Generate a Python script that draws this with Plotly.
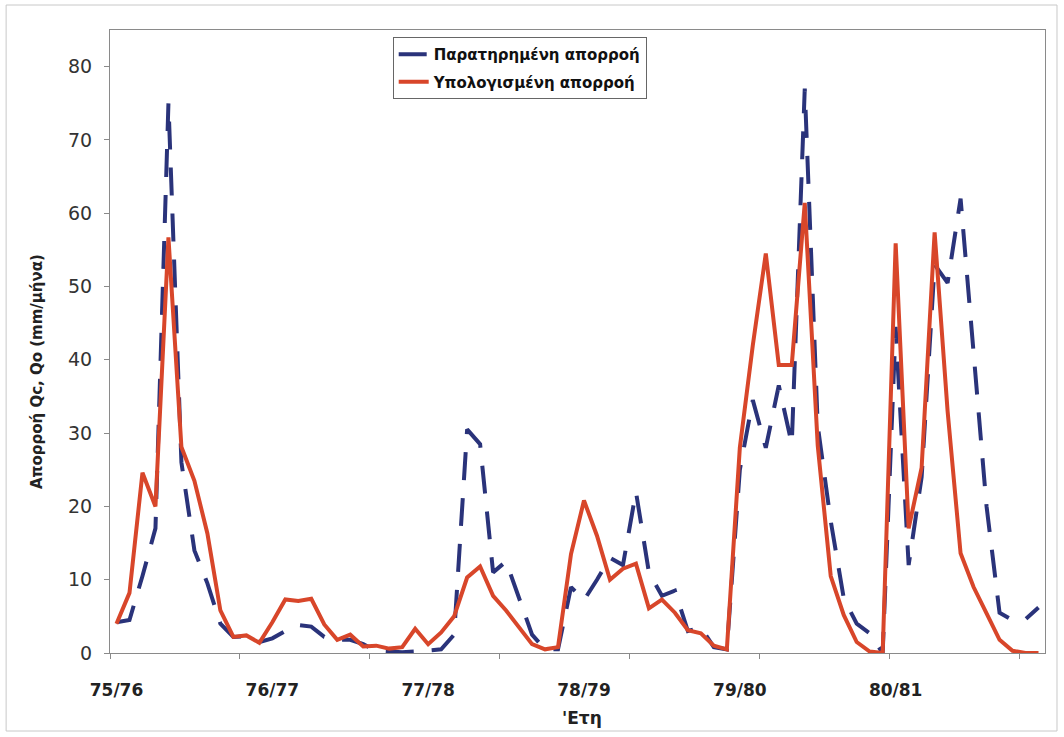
import plotly.graph_objects as go

# hydrological years (labels every 12 months)
years = ["75/76", "76/77", "77/78", "78/79", "79/80", "80/81"]
months = list(range(72))

observed = [4.2, 4.5, 10.5, 17.0, 75.0, 26.0, 14.0, 9.5, 4.0, 2.2, 2.3, 1.5,
            2.0, 3.0, 3.8, 3.6, 2.2, 1.8, 1.8, 1.2, 0.3, 0.2, 0.1, 0.2,
            0.4, 0.5, 2.5, 30.5, 28.5, 11.0, 12.5, 7.5, 2.5, 0.5, 0.5, 9.0,
            7.2, 10.0, 13.0, 12.0, 22.0, 11.0, 7.8, 8.5, 3.0, 3.5, 0.8, 0.5,
            25.0, 34.5, 28.0, 36.5, 28.5, 77.0, 31.0, 18.0, 7.5, 4.0, 2.7, 0.0,
            44.5, 12.0, 24.0, 53.0, 50.5, 62.0, 40.5, 20.0, 5.5, 4.5, 4.6, 6.2]

computed = [4.0, 8.2, 24.6, 20.0, 56.7, 28.1, 23.5, 16.3, 5.8, 2.2, 2.4, 1.4,
            4.2, 7.3, 7.1, 7.4, 3.9, 1.8, 2.5, 0.9, 1.0, 0.6, 0.8, 3.3,
            1.2, 2.8, 5.0, 10.3, 11.8, 7.8, 5.8, 3.5, 1.2, 0.5, 0.8, 13.5,
            20.8, 16.0, 10.0, 11.5, 12.2, 6.1, 7.3, 5.5, 3.1, 2.7, 1.0, 0.5,
            28.0, 42.0, 54.5, 39.3, 39.3, 61.4, 28.3, 10.5, 5.2, 1.5, 0.2, 0.0,
            55.9, 17.0, 25.3, 57.4, 33.0, 13.6, 9.0, 5.4, 1.8, 0.3, 0.0, 0.0]

yticks = [0, 10, 20, 30, 40, 50, 60, 70, 80]

FONT = "DejaVu Sans"
AXC = "#8a8a8a"

fig = go.Figure()
fig.add_trace(go.Scatter(
    x=months, y=observed, mode="lines", name="Παρατηρημένη απορροή",
    line=dict(color="#2a337a", width=4, dash="28px,18px"),
    legendgroup="a"))
fig.add_trace(go.Scatter(
    x=months, y=computed, mode="lines", name="Υπολογισμένη απορροή",
    line=dict(color="#d8462a", width=4),
    legendgroup="b"))

n = len(months)
fig.update_layout(
    width=1064, height=737,
    margin=dict(l=110, r=19, t=30, b=84),
    paper_bgcolor="white", plot_bgcolor="white",
    showlegend=True,
    legend=dict(x=(393 - 110) / 936, y=1 - 7 / 623, xanchor="left", yanchor="top",
                bordercolor="#666", borderwidth=1, bgcolor="white",
                font=dict(family=FONT, size=15, color="#111", weight="bold"),
                tracegroupgap=5, traceorder="grouped"),
    xaxis=dict(range=[-0.5, n - 0.5], showgrid=False, zeroline=False,
               tickmode="array", tickvals=[12 * k for k in range(len(years))],
               ticktext=years, ticks="", ticklabelstandoff=22,
               tickfont=dict(family=FONT, size=17, color="#222", weight="bold"),
               showline=True, linecolor=AXC, linewidth=1, mirror=True,
               minor=dict(tickmode="array", tickvals=[k * 10 - 0.5 for k in range(8)],
                          ticks="outside", ticklen=5, tickcolor=AXC, showgrid=False)),
    yaxis=dict(range=[0, 85], showgrid=False, zeroline=False,
               tickmode="array", tickvals=yticks, ticks="outside", ticklen=5,
               tickcolor=AXC, ticklabelstandoff=8,
               tickfont=dict(family=FONT, size=19, color="#333"),
               showline=True, linecolor=AXC, linewidth=1, mirror=True),
    annotations=[
        dict(text="'Ετη", xref="paper", yref="paper", x=(583 - 110) / 936,
             y=(653 - 718) / 623, xanchor="center", yanchor="middle", showarrow=False,
             font=dict(family=FONT, size=17, color="#222", weight="bold")),
        dict(text="Απορροή Qc, Qo (mm/μήνα)", xref="paper", yref="paper",
             x=(37 - 110) / 936, y=(653 - 372) / 623, textangle=-90,
             xanchor="center", yanchor="middle", showarrow=False,
             font=dict(family=FONT, size=15, color="#222", weight="bold")),
    ],
    shapes=[dict(type="rect", xref="paper", yref="paper",
                 x0=(6 - 110) / 936, x1=(1058 - 110) / 936,
                 y0=(653 - 731) / 623, y1=(653 - 5) / 623,
                 line=dict(color="#c8c8c8", width=1))],
)

fig.write_html("out.html")
